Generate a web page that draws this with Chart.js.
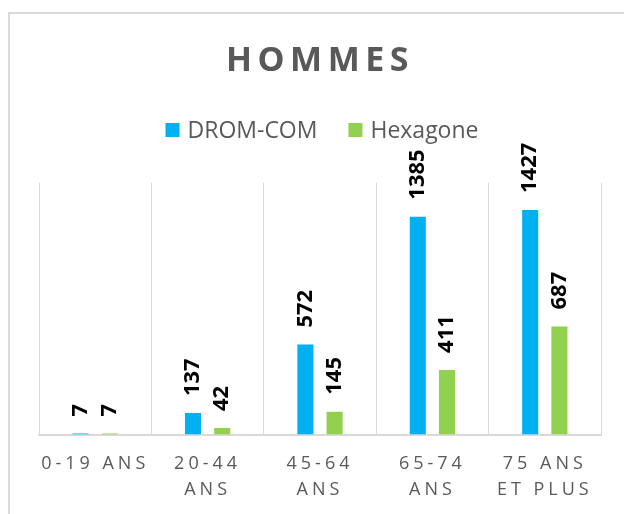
<!DOCTYPE html>
<html lang="fr">
<head>
<meta charset="utf-8">
<title>Hommes</title>
<script src="https://cdn.jsdelivr.net/npm/chart.js@4.4.1/dist/chart.umd.min.js"></script>
<style>
  html, body { margin: 0; padding: 0; background: #fff; overflow: hidden; }
  #wrap { position: relative; width: 624px; height: 514px; }
  #cadre { position: absolute; left: 8px; top: 12px; width: 700px; height: 600px; border: 2px solid #dadada; pointer-events: none; }
  canvas { position: absolute; left: 0; top: 0; }
</style>
</head>
<body>
<div id="wrap">
  <div id="cadre"></div>
  <canvas id="graphHommes" width="624" height="514"></canvas>
</div>
<script>
// Tranches d'âge (sur plusieurs lignes comme dans le classeur d'origine)
const categories = [['0-19 ANS'], ['20-44', 'ANS'], ['45-64', 'ANS'], ['65-74', 'ANS'], ['75 ANS', 'ET PLUS']];
const dromCom = [7, 137, 572, 1385, 1427];
const hexagone = [7, 42, 145, 411, 687];
const seriesNames = ['DROM-COM', 'Hexagone'];
const yMax = 1600;

const GRIS = '#595959';
const POLICE = "'Open Sans', sans-serif";

// Étiquettes verticales, légende maison et espacement des lettres (titre / axe X)
const lookExcel = {
    id: 'lookExcel',
    beforeDraw(chart) {
        chart.ctx.letterSpacing = '5.5px'; // le titre est dessiné avec cet espacement
    },
    afterDatasetsDraw(chart) {
        const ctx = chart.ctx;
        ctx.save();
        ctx.letterSpacing = '0px';
        ctx.font = `bold 22px ${POLICE}`;
        ctx.fillStyle = '#000';
        ctx.textAlign = 'left';
        ctx.textBaseline = 'middle';
        chart.data.datasets.forEach((ds, i) => {
            chart.getDatasetMeta(i).data.forEach((bar, j) => {
                ctx.save();
                ctx.translate(bar.x, bar.y - 17);
                ctx.rotate(-Math.PI / 2);
                ctx.fillText(String(ds.data[j]), 0, 0);
                ctx.restore();
            });
        });
        ctx.restore();
        // les libellés de l'axe X (z: 1) viennent après
        ctx.letterSpacing = '4px';
    },
    afterDraw(chart) {
        const ctx = chart.ctx;
        ctx.letterSpacing = '0px';
        ctx.save();
        ctx.font = `23px ${POLICE}`;
        ctx.textBaseline = 'middle';
        ctx.textAlign = 'left';
        const box = 14, gapText = 8, gapItem = 31, y = 130;
        const items = chart.data.datasets.map(ds => ({
            text: ds.label,
            color: ds.backgroundColor,
            w: ctx.measureText(ds.label).width
        }));
        const total = items.reduce((s, it) => s + box + gapText + it.w, 0) + gapItem * (items.length - 1);
        let x = (chart.chartArea.left + chart.chartArea.right) / 2 - total / 2 + 2;
        items.forEach(it => {
            ctx.fillStyle = it.color;
            ctx.fillRect(x, y - box / 2, box, box);
            ctx.fillStyle = GRIS;
            ctx.fillText(it.text, x + box + gapText, y + 1);
            x += box + gapText + it.w + gapItem;
        });
        ctx.restore();
    }
};

new Chart(document.getElementById('graphHommes'), {
    type: 'bar',
    data: {
        labels: categories,
        datasets: [
            { label: seriesNames[0], data: dromCom, backgroundColor: '#00b0f0' },
            { label: seriesNames[1], data: hexagone, backgroundColor: '#92d050' }
        ]
    },
    options: {
        responsive: false,
        animation: false,
        datasets: { bar: { categoryPercentage: 0.52, barPercentage: 0.55 } },
        layout: { padding: { left: 39, right: 23, top: 0, bottom: -5 } },
        plugins: {
            legend: { display: false },
            tooltip: { enabled: false },
            title: {
                display: true,
                text: 'HOMMES',
                color: GRIS,
                font: { family: POLICE, size: 34, weight: 'bold', lineHeight: 1.2 },
                padding: { top: 41, bottom: 101 }
            }
        },
        scales: {
            x: {
                grid: { color: '#d9d9d9', lineWidth: 1, drawTicks: false, offset: true },
                border: { display: true, color: '#d9d9d9', width: 2 },
                ticks: {
                    color: GRIS,
                    font: { family: POLICE, size: 18, lineHeight: 1.4 },
                    padding: 17,
                    maxRotation: 0,
                    autoSkip: false,
                    z: 1
                }
            },
            y: {
                display: false,
                min: 0,
                max: yMax
            }
        }
    },
    plugins: [lookExcel]
});
</script>
</body>
</html>
